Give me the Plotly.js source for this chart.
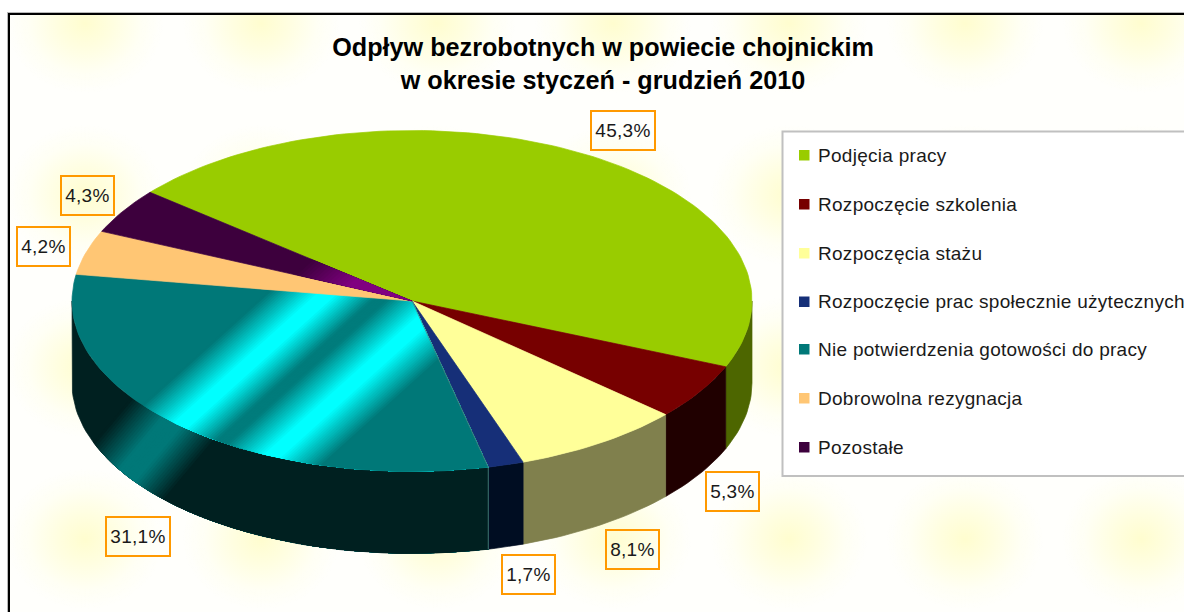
<!DOCTYPE html>
<html lang="pl">
<head>
<meta charset="utf-8">
<script src="https://cdn.plot.ly/plotly-3.0.1.min.js"></script>
<style>
html,body{margin:0;padding:0;background:#fff;width:1184px;height:612px;overflow:hidden}
#bg{position:absolute;left:8px;top:13px;width:1176px;height:599px;background-color:#fffffc;
background-image:radial-gradient(ellipse 78px 70px at center,#fffdcf 0%,#fffee0 35%,#fffff4 72%,rgba(255,255,252,0) 100%);
background-size:176px 172px;background-position:-11px -76px}
#chart{position:absolute;left:0;top:0;width:1184px;height:612px}
#chart .annotation text{letter-spacing:0.28px}
</style>
</head>
<body>
<div id="bg"></div>
<div id="chart"></div>
<script>
const titleText = 'Odpływ bezrobotnych w powiecie chojnickim<br>w okresie styczeń - grudzień 2010';
const categories = ['Podjęcia pracy','Rozpoczęcie szkolenia','Rozpoczęcia stażu','Rozpoczęcie prac społecznie użytecznych','Nie potwierdzenia gotowości do pracy','Dobrowolna rezygnacja','Pozostałe'];
const percentValues = [45.3,5.3,8.1,1.7,31.1,4.2,4.3];
const topColors = ['#99cc00','#770000','#ffff99','#162f78','#007878','#ffc674','#3d003d'];
const sideColors = ['#4d6600','#200000','#80804d','#000d22','#002020','#806339','#1f001f'];
const labelCenters = [[623,130.5],[732.5,491],[632.5,549.5],[528.5,574],[138,536],[43.5,246],[87,195]];

// Geometry of the tilted pie, in page pixels
const cx=412, cy=301, rx=340, ry=170.5, depth=82, startAngle=309.6;
const rad=d=>d*Math.PI/180;
const px=(d,off=0)=>[cx+rx*Math.sin(rad(d)), cy-ry*Math.cos(rad(d))+off];
function arc(a,b,off=0){const n=Math.max(2,Math.ceil(Math.abs(b-a)/1.5));const r=[];for(let i=0;i<=n;i++)r.push(px(a+(b-a)*i/n,off));return r;}
function clip(poly,nx,ny,t0){const out=[];for(let i=0;i<poly.length;i++){const A=poly[i],B=poly[(i+1)%poly.length];
  const da=A[0]*nx+A[1]*ny-t0, db=B[0]*nx+B[1]*ny-t0;
  if(da>=0)out.push(A);
  if((da>=0)!==(db>=0)){const s=da/(da-db);out.push([A[0]+(B[0]-A[0])*s,A[1]+(B[1]-A[1])*s]);}}
  return out;}
function hex(c){return [1,3,5].map(i=>parseInt(c.substr(i,2),16));}
function profileColor(p,t){ if(t<=p[0][0])return p[0][1]; for(let i=1;i<p.length;i++){ if(t<=p[i][0]){const s=(t-p[i-1][0])/(p[i][0]-p[i-1][0]);const A=hex(p[i-1][1]),B=hex(p[i][1]);return 'rgb('+A.map((v,k)=>Math.round(v+(B[k]-v)*s)).join(',')+')';}} return p[p.length-1][1];}

const traces=[];
function addPoly(poly,color,name,lw=0.7){ if(poly.length<3)return;
  traces.push({type:'scatter',mode:'lines',x:poly.map(p=>p[0]).concat(poly[0][0]),y:poly.map(p=>p[1]).concat(poly[0][1]),
    fill:'toself',fillcolor:color,line:{color:color,width:lw},hoverinfo:'skip',showlegend:false,name:name||''});}
function addGradient(poly,nx,ny,profile,step,name){
  const t0=profile[0][0],t1=profile[profile.length-1][0];
  for(let t=t0;t<=t1;t+=step){addPoly(clip(poly,nx,ny,t),profileColor(profile,t),name,0);}
}

// Stripe profiles seen on the slices
const stripeN=[Math.sin(rad(42)),Math.cos(rad(42))];
const tealProfile=[[396,'#007878'],[430,'#00ffff'],[442,'#00ffff'],[471,'#007c7c'],[481,'#007c7c'],[514,'#00ffff'],[526,'#00ffff'],[560,'#007878']];
const purpleProfile=[[400,'#3d003d'],[445,'#800080']];
const wallN=[Math.sin(rad(50)),Math.cos(rad(50))];
const wallProfile=[[356,'#002020'],[392,'#007878'],[412,'#007878'],[446,'#002020']];

const total=percentValues.reduce((a,b)=>a+b,0);
let acc=startAngle;
const slices=percentValues.map((v,i)=>{const a=acc,b=acc+v/total*360;acc=b;return {a,b,i};});

// Walls: only the front half of the rim (90..270 degrees) is seen
slices.forEach(s=>{
  [0,360].forEach(shift=>{
    const a=Math.max(s.a,90+shift),b=Math.min(s.b,270+shift);
    if(b<=a)return;
    const poly=arc(a,b).concat(arc(b,a,depth));
    addPoly(poly,sideColors[s.i],categories[s.i]);
    if(s.i===4) addGradient(poly,wallN[0],wallN[1],wallProfile,2.5,categories[s.i]);
  });
});
// Top faces
slices.forEach(s=>{
  const poly=[[cx,cy]].concat(arc(s.a,s.b));
  addPoly(poly,topColors[s.i],categories[s.i]);
  if(s.i===4) addGradient(poly,stripeN[0],stripeN[1],tealProfile,2,categories[s.i]);
  if(s.i===6) addGradient(poly,stripeN[0],stripeN[1],purpleProfile,3,categories[s.i]);
});
// Thin pale seam between the teal and navy slices
(function(){const e=slices[3].b,p=px(e);traces.push({type:'scatter',mode:'lines',x:[cx,p[0],p[0]],y:[cy,p[1],p[1]+depth],
  line:{color:'#4f7f80',width:0.8},hoverinfo:'skip',showlegend:false});})();

const R=(x0,y0,x1,y1,fill,line,w)=>({type:'rect',xref:'x',yref:'y',x0,y0,x1,y1,fillcolor:fill,line:{color:line||fill,width:w||0},layer:'below'});
const shapes=[
  R(7,12,1184,13,'#b8b8b8'),R(7,12,8,612,'#b8b8b8'),
  R(8,13,1184,15,'#000000'),R(8,13,10,612,'#000000'),
  R(782.5,131.5,1190,476,'#ffffff','#c0c0c0',2)
];
const legendY=[155,204,253,301.5,349,398,447];
const annotations=[];
categories.forEach((c,i)=>{
  shapes.push(R(799,legendY[i]-5,809.5,legendY[i]+5.5,topColors[i]));
  annotations.push({xref:'x',yref:'y',x:815.5,y:legendY[i],text:c,showarrow:false,xanchor:'left',yanchor:'middle',align:'left',
    font:{family:'Liberation Sans, Arial, sans-serif',size:19,color:'#1a1a1a'}});
  annotations.push({xref:'x',yref:'y',x:labelCenters[i][0],y:labelCenters[i][1],
    text:percentValues[i].toFixed(1).replace('.',',')+'%',showarrow:false,xanchor:'center',yanchor:'middle',
    width:i===0||i===4?62:51,height:37,borderwidth:2,bordercolor:'#ff9900',borderpad:0,align:'center',valign:'middle',
    font:{family:'Liberation Sans, Arial, sans-serif',size:19,color:'#1a1a1a'}});
});

const layout={
  width:1184,height:612,margin:{l:0,r:0,t:0,b:0},
  paper_bgcolor:'rgba(0,0,0,0)',plot_bgcolor:'rgba(0,0,0,0)',showlegend:false,
  xaxis:{range:[0,1184],visible:false,fixedrange:true},
  yaxis:{range:[612,0],visible:false,fixedrange:true},
  title:{text:titleText,x:603/1184,xanchor:'center',y:1-56/612,yanchor:'top',
    font:{family:'Liberation Sans, Arial, sans-serif',size:25.2,weight:700,color:'#000000'}},
  shapes,annotations
};
Plotly.newPlot('chart',traces,layout,{displayModeBar:false,staticPlot:true});
</script>
</body>
</html>
